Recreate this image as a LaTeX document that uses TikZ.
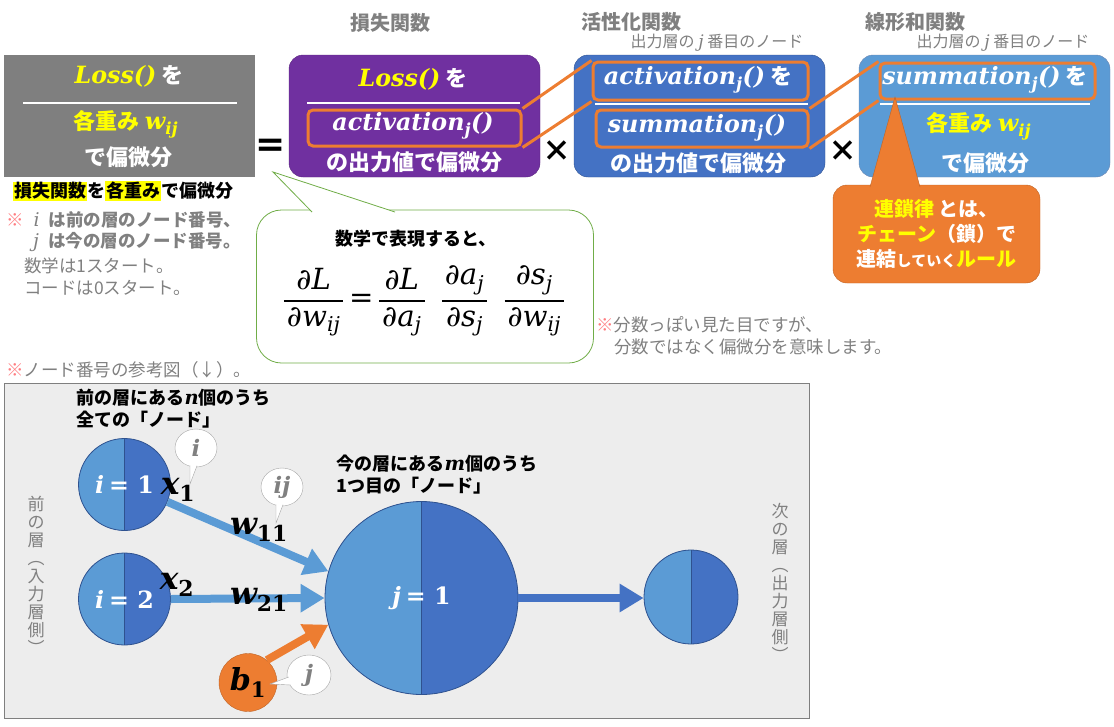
\RequirePackage{fix-cm}
\documentclass[tikz,border=0pt]{standalone}
\usepackage{amsmath}
\usepackage[no-math]{fontspec}
\setmainfont{Noto Sans CJK JP}
\newfontfamily\labfont[Scale=1.08]{DejaVu Serif}
\newfontfamily\symfont{DejaVu Sans}
\usetikzlibrary{arrows.meta,positioning,shapes.geometric,calc}

\definecolor{boxgray}{HTML}{7F7F7F}
\definecolor{lossviolet}{HTML}{7030A0}
\definecolor{actblue}{HTML}{4472C4}
\definecolor{sumblue}{HTML}{5B9BD5}
\definecolor{chainorange}{HTML}{ED7D31}
\definecolor{bubblegreen}{HTML}{70AD47}
\definecolor{panelgray}{HTML}{EDEDED}
\definecolor{notegray}{HTML}{808080}
\definecolor{komered}{HTML}{FF7C80}
\definecolor{ringblue}{HTML}{2F528F}
\definecolor{hiyellow}{HTML}{FFFF00}

\newcommand{\fsz}[1]{\fontsize{#1}{#1}\selectfont}
\newcommand{\varlab}[1]{{\labfont\bfseries\itshape #1}}
\newcommand{\varsub}[2]{\mbox{$\text{\varlab{#1}}_{\text{\varlab{#2}}}$}}
\newcommand{\pd}[2]{\genfrac{}{}{1.8pt}{0}{\hspace{3pt}#1\hspace{3pt}}{\hspace{3pt}#2\hspace{3pt}}}
\newcommand{\tx}[1]{\text{#1}}
\setlength{\fboxsep}{1pt}

\begin{document}
\begin{tikzpicture}[x=1pt, y=-1pt,
        funcbox/.style={minimum width=251pt, minimum height=122pt, inner sep=0pt, rounded corners=14pt},
        focus/.style={draw=chainorange, line width=3pt, rounded corners=5pt, inner sep=0pt},
        link/.style={draw=chainorange, line width=3pt},
        boxtext/.style={text=white, font=\fsz{22}\bfseries},
        title/.style={text=notegray, font=\fsz{20}\bfseries},
        subtitle/.style={text=notegray, font=\fsz{16}},
        note/.style={text=notegray, font=\fsz{17.5}, anchor=west, inner sep=0pt},
        layer/.style={text=notegray, font=\fontsize{17}{18}\selectfont, align=center},
        neuron/.style={circle, inner sep=0pt, fill=actblue, draw=ringblue, line width=0.8pt, text=white, font=\fsz{22},
            path picture={\fill[sumblue] (path picture bounding box.south west) rectangle (path picture bounding box.north);
                \draw[ringblue, line width=0.8pt] (path picture bounding box.north) -- (path picture bounding box.south);}},
        flow/.style={line width=8pt, sumblue, -{Triangle[length=24pt, width=27pt]}},
        tag/.style={ellipse, draw=gray!70, fill=white, inner sep=0pt, minimum width=42pt, minimum height=38pt, text=notegray, font=\fsz{21}},
        tagtail/.style={draw=gray!70, fill=white},
        sym/.style={font=\fsz{29}}
    ]
    \useasboundingbox (0,0) rectangle (1114,726);
    % Linke Box
    \node[funcbox, rounded corners=0pt, fill=boxgray] (lossgrad) at (129.5,116) {};
    \node[boxtext] (lg1) at (129,76) {\textcolor{hiyellow}{\varlab{Loss()}} を};
    \draw[white, line width=1.2pt] (23,103) -- (237,103);
    \node[boxtext, text=hiyellow] (lg2) at (126,124) {各重み \varsub{w}{ij}};
    \node[boxtext] (lg3) at (128,157) {で偏微分};
    \node[font=\fsz{36}\symfont\bfseries] (eq) at (271,148) {=};
    % Verlustfunktion
    \node[title] (t1) at (390,23) {損失関数};
    \node[funcbox, fill=lossviolet, draw=lossviolet!80!black] (loss) at (414.5,116) {};
    \node[boxtext] at (413,79) {\textcolor{hiyellow}{\varlab{Loss()}} を};
    \draw[white, line width=1.2pt] (307,103) -- (520,103);
    \node[focus, minimum width=213pt, minimum height=36pt] (lossact) at (414.5,128) {};
    \node[boxtext] at (413,126) {\varsub{activation}{j}\varlab{()}};
    \node[boxtext] at (414,162) {の出力値で偏微分};
    \node[sym] (times1) at (557,151) {\textbf{×}};
    % Aktivierung
    \node[title] (t2) at (631,22) {活性化関数};
    \node[subtitle] at (717,43) {出力層の {\labfont\itshape j} 番目のノード};
    \node[funcbox, fill=actblue, draw=ringblue] (act) at (699.5,116) {};
    \node[focus, minimum width=215pt, minimum height=38pt] (actact) at (700.5,81) {};
    \node[boxtext] at (698,80) {\varsub{activation}{j}\varlab{()} を};
    \draw[white, line width=1.2pt] (595,104) -- (808,104);
    \node[focus, minimum width=212pt, minimum height=37pt] (actsum) at (702,128.5) {};
    \node[boxtext] at (697,128) {\varsub{summation}{j}\varlab{()}};
    \node[boxtext] at (698,163) {の出力値で偏微分};
    \node[sym] (times2) at (843,151) {\textbf{×}};
    % Linearsumme
    \node[title] (t3) at (915,22) {線形和関数};
    \node[subtitle] at (1003,43) {出力層の {\labfont\itshape j} 番目のノード};
    \node[funcbox, fill=sumblue, draw=ringblue!70] (sum) at (984.5,116) {};
    \node[focus, minimum width=215pt, minimum height=36pt] (sumsum) at (987.5,81) {};
    \node[boxtext] at (985,80) {\varsub{summation}{j}\varlab{()} を};
    \draw[white, line width=1.2pt] (880,104) -- (1090,104);
    \node[boxtext, text=hiyellow] at (979,126) {各重み \varsub{w}{ij}};
    \node[boxtext] at (985,163) {で偏微分};
    % orange Verbindungen
    \draw[link] (lossact.north east) -- (actact.north west);
    \draw[link] (lossact.south east) -- (actact.south west);
    \draw[link] (actsum.north east) -- (sumsum.north west);
    \draw[link] (actsum.south east) -- (sumsum.south west);
    % Kettenregel
    \node[draw=chainorange!80!black, fill=chainorange, rounded corners=14pt, minimum width=207pt, minimum height=98pt,
        align=center, text=white, font=\fontsize{20}{25}\selectfont\bfseries] (chain) at (936.5,234)
        {\textcolor{hiyellow}{連鎖律} とは、\\\textcolor{hiyellow}{チェーン}（鎖）で\\連結{\fontsize{15}{25}\selectfont していく}\textcolor{hiyellow}{ルール}};
    \coordinate (chaintip) at (895,97);
    \draw[draw=chainorange!80!black, fill=chainorange] (870,187) -- (chaintip) -- (920,187);
    % linke Notizen
    \node[font=\fsz{18}\bfseries, anchor=west, inner sep=0pt] (lossnote) at (13,191)
        {\colorbox{hiyellow}{損失関数}を\colorbox{hiyellow}{各重み}で偏微分};
    \node[note] at (6,220) {\textcolor{komered}{※}\hspace{10pt}{\labfont\itshape i}\hspace{9pt}\textbf{は前の層のノード番号、}};
    \node[note] at (33,242) {{\labfont\itshape j}\hspace{9pt}\textbf{は今の層のノード番号。}};
    \node[note] at (24,266) {数学は1スタート。};
    \node[note] at (24,288) {コードは0スタート。};
    % Sprechblase
    \node[draw=bubblegreen, fill=white, rounded corners=25pt, minimum width=337pt, minimum height=153pt, line width=0.8pt] (mathbub) at (425,286.5) {};
    \coordinate (mathtip) at (273,172);
    \draw[bubblegreen, fill=white, line width=0.8pt] (312,212) -- (mathtip) -- (395,212);
    \node[font=\fsz{18}\bfseries] (mathhead) at (416,239) {数学で表現すると、};
    \node[font=\fsz{27}\labfont\itshape] (chainrule) at (424,301)
        {$\pd{\tx{∂L}}{\tx{∂w}_{\tx{ij}}}\,\tx{\upshape =}\,\pd{\tx{∂L}}{\tx{∂a}_{\tx{j}}}\;\;\pd{\tx{∂a}_{\tx{j}}}{\tx{∂s}_{\tx{j}}}\;\;\pd{\tx{∂s}_{\tx{j}}}{\tx{∂w}_{\tx{ij}}}$};
    \node[note] at (596,325) {\textcolor{komered}{※}分数っぽい見た目ですが、};
    \node[note] at (614,347) {分数ではなく偏微分を意味します。};
    \node[note] at (6,370) {\textcolor{komered}{※}ノード番号の参考図（↓）。};
    % Netz
    \node[draw=boxgray, fill=panelgray, minimum width=805pt, minimum height=335pt, inner sep=0pt, line width=0.8pt] (panel) at (406.5,550.5) {};
    \node[layer] at (36,575) {前\\の\\層\\︵\\入\\力\\層\\側\\︶};
    \node[layer] at (780,582) {次\\の\\層\\︵\\出\\力\\層\\側\\︶};
    \node[font=\fontsize{18}{22}\selectfont\bfseries, anchor=west, align=left] at (73,409) {前の層にある\varlab{n}個のうち\\全ての「ノード」};
    \node[font=\fontsize{18}{22}\selectfont\bfseries, anchor=west, align=left] at (333,475) {今の層にある\varlab{m}個のうち\\1つ目の「ノード」};
    \node[neuron, minimum size=92pt] (in1) at (124.5,484.5) {\varlab{i} {\labfont\bfseries = 1}};
    \node[neuron, minimum size=92pt] (in2) at (124.5,599) {\varlab{i} {\labfont\bfseries = 2}};
    \node[neuron, minimum size=193pt] (hid) at (421.5,598) {\varlab{j} {\labfont\bfseries = 1}};
    \node[neuron, minimum size=94pt] (out) at (691,597) {};
    \node[circle, fill=chainorange, draw=chainorange!80!black, minimum size=58pt, inner sep=0pt, font=\fsz{28}] (bias) at (248,682.5) {\varsub{b}{\upshape 1}};
    \draw[flow] (in1.-22) -- (hid.164);
    \draw[flow] (in2.east) -- (hid.west);
    \draw[flow, chainorange] (bias.50) -- (hid.196);
    \draw[flow, actblue] (hid.east) -- (hid.east -| out.west);
    \node[sym] (xone) at (178,490) {\varsub{x}{\upshape 1}};
    \node[sym] (xtwo) at (177,585) {\varsub{x}{\upshape 2}};
    \node[sym] (wone) at (259,530) {\varsub{w}{\upshape 11}};
    \node[sym] (wtwo) at (259,600) {\varsub{w}{\upshape 21}};
    % Index-Blasen
    \node[tag] (tagi) at (196,448) {\varlab{i}};
    \coordinate (tipi) at (190,484);
    \draw[tagtail] ([xshift=-6pt,yshift=1.5pt]tagi.south) -- (tipi) -- ([xshift=1pt,yshift=1.5pt]tagi.south);
    \node[tag] (tagij) at (282,487) {\varlab{ij}};
    \coordinate (tipij) at (276,523);
    \draw[tagtail] ([xshift=-6pt,yshift=1.5pt]tagij.south) -- (tipij) -- ([xshift=1pt,yshift=1.5pt]tagij.south);
    \node[tag, minimum width=44pt, minimum height=40pt] (tagj) at (309,675) {\varlab{j}};
    \coordinate (tipj) at (270,684);
    \draw[tagtail] ([xshift=2pt,yshift=-2pt]tagj.west) -- (tipj) -- ([xshift=4pt,yshift=-10pt]tagj.west);
\end{tikzpicture}
\end{document}
